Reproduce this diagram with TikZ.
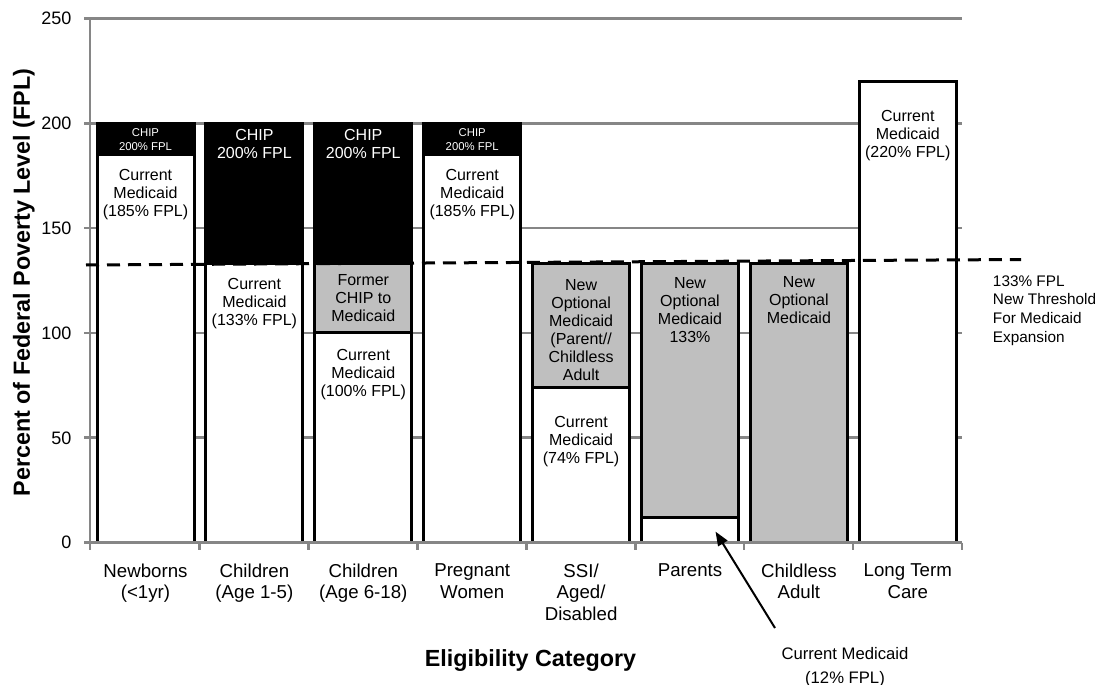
\documentclass[tikz,border=0pt]{standalone}
\usepackage{fontspec}
\setmainfont{Liberation Sans}
\usetikzlibrary{arrows.meta}
\definecolor{gridgray}{RGB}{134,134,134}
\definecolor{barfill}{RGB}{191,191,191}
\begin{document}
\begin{tikzpicture}[x=0.75pt,y=-0.75pt,
  gridline/.style={draw=gridgray,line width=2pt},
  seg/.style={draw=black,line width=2.25pt},
  blackseg/.style={seg,fill=black},
  whiteseg/.style={seg,fill=white},
  grayseg/.style={seg,fill=barfill},
  bartext/.style={font=\fontsize{12}{13.5}\selectfont,align=center,inner sep=0pt,anchor=north},
  chipbig/.style={bartext,text=white},
  chipsmall/.style={font=\fontsize{8.5}{10.8}\selectfont,align=center,inner sep=0pt,anchor=north,text=white},
  ticklabel/.style={font=\fontsize{13.5}{16}\selectfont,anchor=east,inner sep=0pt},
  catlabel/.style={font=\fontsize{14}{16.3}\selectfont,align=center,inner sep=0pt,anchor=north},
  axistitle/.style={font=\fontsize{17.5}{21}\selectfont\bfseries,inner sep=0pt,anchor=base},
  threshold/.style={draw=black,line width=2.25pt,dash pattern=on 9.75pt off 6pt},
  note/.style={font=\fontsize{11.5}{14}\selectfont,align=left,inner sep=0pt,anchor=north west},
  pointer/.style={draw=black,line width=1.5pt,-{Triangle[length=10.5pt,width=8pt]}}
]
\useasboundingbox (0,0) rectangle (1104,685);
\fill[white] (0,0) rectangle (1104,685);

% gridlines
\foreach \y in {18.3,123.18,228.06,332.94,437.82}
  \draw[gridline] (90,\y) -- (962,\y);

% bars
% Newborns
\draw[blackseg] (97,123.18) rectangle (194,154.64);
\draw[whiteseg] (97,154.64) rectangle (194,542.7);
% Children 1-5
\draw[blackseg] (205.9,123.18) rectangle (302.9,263.72);
\draw[whiteseg] (205.9,263.72) rectangle (302.9,542.7);
% Children 6-18
\draw[blackseg] (314.8,123.18) rectangle (411.8,263.72);
\draw[grayseg] (314.8,263.72) rectangle (411.8,332.94);
\draw[whiteseg] (314.8,332.94) rectangle (411.8,542.7);
% Pregnant
\draw[blackseg] (423.7,123.18) rectangle (520.7,154.64);
\draw[whiteseg] (423.7,154.64) rectangle (520.7,542.7);
% SSI
\draw[grayseg] (532.6,263.72) rectangle (629.6,387.48);
\draw[whiteseg] (532.6,387.48) rectangle (629.6,542.7);
% Parents
\draw[grayseg] (641.5,263.72) rectangle (738.5,517.53);
\draw[whiteseg] (641.5,517.53) rectangle (738.5,542.7);
% Childless
\draw[grayseg] (750.4,263.72) rectangle (847.4,542.7);
% Long term care
\draw[whiteseg] (859.3,81.23) rectangle (956.3,542.7);

% axes
\draw[gridline] (90,18.3) -- (90,550);
\draw[gridline] (90,542.7) -- (962,542.7);
\foreach \y in {18.3,123.18,228.06,332.94,437.82,542.7}
  \draw[gridline] (84,\y) -- (90,\y);
\foreach \i in {1,...,8}
  \draw[gridline] ({90.7+108.9*\i},542.7) -- ({90.7+108.9*\i},550);

% tick labels
\foreach \v/\y in {0/542.7,50/437.82,100/332.94,150/228.06,200/123.18,250/18.3}
  \node[ticklabel] (tick\v) at (71.7,\y) {\v};

% bar texts
\node[chipsmall] (nbchip) at (145.5,128.2) {CHIP\\200\% FPL};
\node[bartext] (nbcur) at (145.5,169.2) {Current\\Medicaid\\(185\% FPL)};
\node[chipbig] (c1chip) at (254.4,129.2) {CHIP\\200\% FPL};
\node[bartext] (c1cur) at (254.4,278.2) {Current\\Medicaid\\(133\% FPL)};
\node[chipbig] (c2chip) at (363.3,129.2) {CHIP\\200\% FPL};
\node[bartext] (c2former) at (363.3,274.2) {Former\\CHIP to\\Medicaid};
\node[bartext] (c2cur) at (363.3,349.2) {Current\\Medicaid\\(100\% FPL)};
\node[chipsmall] (pwchip) at (472.2,128.2) {CHIP\\200\% FPL};
\node[bartext] (pwcur) at (472.2,169.2) {Current\\Medicaid\\(185\% FPL)};
\node[bartext] (ssinew) at (581.1,279.2) {New\\Optional\\Medicaid\\(Parent//\\Childless\\Adult};
\node[bartext] (ssicur) at (581.1,415.9) {Current\\Medicaid\\(74\% FPL)};
\node[bartext] (parnew) at (690,277.5) {New\\Optional\\Medicaid\\133\%};
\node[bartext] (cldnew) at (798.9,276.2) {New\\Optional\\Medicaid};
\node[bartext] (ltccur) at (907.8,109.9) {Current\\Medicaid\\(220\% FPL)};

% category labels
\node[catlabel] (cat1) at (145.5,563.3) {Newborns\\(<1yr)};
\node[catlabel] (cat2) at (254.4,563.3) {Children\\(Age 1-5)};
\node[catlabel] (cat3) at (363.3,563.3) {Children\\(Age 6-18)};
\node[catlabel] (cat4) at (472.2,563.3) {Pregnant\\Women};
\node[catlabel] (cat5) at (581.1,563.3) {SSI/\\Aged/\\Disabled};
\node[catlabel] (cat6) at (690,563.3) {Parents};
\node[catlabel] (cat7) at (798.9,563.3) {Childless\\Adult};
\node[catlabel] (cat8) at (907.8,563.3) {Long Term\\Care};

% axis titles
\node[axistitle,rotate=90] (ytitle) at (30,282.5) {Percent of Federal Poverty Level (FPL)};
\node[axistitle] (xtitle) at (530.5,666.7) {Eligibility Category};

% threshold line
\coordinate (thrL) at (86,265);
\coordinate (thrR) at (1021,259.5);
\draw[threshold] (thrL) -- (thrR);
\node[note] (thrnote) at (992.7,275.2) {133\% FPL\\New Threshold\\For Medicaid\\Expansion};

% pointer to 12% FPL
\node[bartext,font=\fontsize{12.5}{18}\selectfont] (cm12) at (845,647) {Current Medicaid\\(12\% FPL)};
\coordinate (tail) at (775,628);
\coordinate (tip) at (715.5,531.6);
\draw[pointer] (tail) -- (tip);
\end{tikzpicture}
\end{document}
